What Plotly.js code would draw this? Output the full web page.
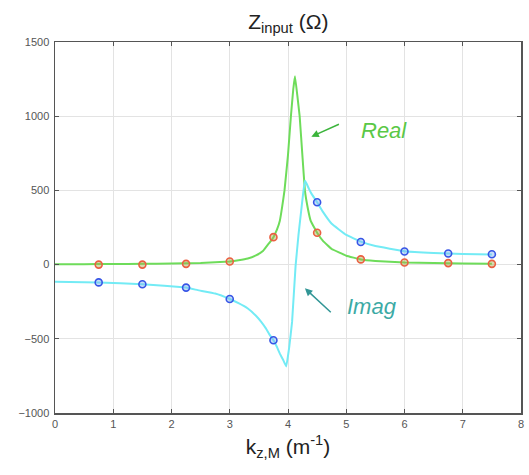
<!DOCTYPE html>
<html><head><meta charset="utf-8">
<script src="https://cdn.plot.ly/plotly-3.0.1.min.js"></script>
<style>html,body{margin:0;padding:0;background:#fff}#chart{width:529px;height:475px}</style>
</head><body><div id="chart"></div>
<script>
// Continuous curves
const realCurveX = [0, 0.5, 1, 1.5, 2, 2.5, 3, 3.15, 3.31, 3.45, 3.57, 3.68, 3.75, 3.81, 3.86, 3.9, 3.94, 4.0, 4.05, 4.09, 4.12, 4.16, 4.2, 4.25, 4.29, 4.34, 4.39, 4.45, 4.5, 4.6, 4.75, 5, 5.25, 5.5, 6, 6.5, 7, 7.5];
const realCurveY = [2, 3, 4, 5, 7, 11, 21, 29, 41, 62, 91, 147, 185, 235, 295, 390, 500, 740, 1000, 1180, 1270, 1140, 1000, 720, 500, 380, 295, 250, 215, 160, 105, 60, 35, 25, 14, 10, 7, 5];
const imagCurveX = [0, 0.75, 1.5, 2.25, 2.45, 2.75, 3, 3.15, 3.31, 3.45, 3.54, 3.62, 3.68, 3.75, 3.81, 3.86, 3.92, 3.97, 4.02, 4.07, 4.13, 4.18, 4.22, 4.26, 4.29, 4.32, 4.36, 4.4, 4.5, 4.6, 4.75, 5, 5.25, 5.5, 6, 6.5, 7, 7.5];
const imagCurveY = [-115, -120, -132, -155, -172, -195, -232, -260, -296, -345, -386, -430, -470, -510, -555, -600, -645, -686, -560, -386, -10, 200, 341, 480, 565, 545, 510, 480, 420, 355, 275, 200, 155, 125, 90, 78, 72, 68];
// Sampled points (markers)
const sampleX = [0.75, 1.5, 2.25, 3, 3.75, 4.5, 5.25, 6, 6.75, 7.5];
const realSamples = [0, 0, 5, 21, 185, 215, 35, 14, 10, 5];
const imagSamples = [-120, -132, -155, -232, -510, 420, 152, 88, 75, 70];

const green = 'rgb(110,220,90)';
const cyan = 'rgb(115,235,245)';
const traces = [
  {x: realCurveX, y: realCurveY, mode: 'lines', line: {color: green, width: 2, shape: 'spline', smoothing: 0.2}, hoverinfo: 'skip'},
  {x: imagCurveX, y: imagCurveY, mode: 'lines', line: {color: cyan, width: 2, shape: 'spline', smoothing: 0.2}, hoverinfo: 'skip'},
  {x: sampleX, y: realSamples, mode: 'markers', marker: {symbol: 'circle', size: 7, color: 'rgba(170,170,80,0.45)', line: {color: 'rgb(235,95,65)', width: 1.6}}},
  {x: sampleX, y: imagSamples, mode: 'markers', marker: {symbol: 'circle', size: 7, color: 'rgba(130,180,240,0.45)', line: {color: 'rgb(55,85,230)', width: 1.6}}}
];
const axisCommon = {
  showgrid: true, gridcolor: '#e3e3e3', gridwidth: 1,
  showline: true, linecolor: '#555', linewidth: 1.5, mirror: 'ticks',
  ticks: 'inside', ticklen: 4, tickcolor: '#555',
  zeroline: false,
  tickfont: {family: 'Liberation Sans, Arial, sans-serif', size: 11, color: '#555'}
};
const layout = {
  width: 529, height: 475,
  margin: {l: 55, r: 8, t: 42, b: 62},
  paper_bgcolor: '#fff', plot_bgcolor: '#fff',
  showlegend: false,
  font: {family: 'Liberation Sans, Arial, sans-serif'},
  title: {text: 'Z<sub>input</sub> (Ω)', font: {size: 21, color: '#222'}, x: 0.545, xanchor: 'center', y: 0.955, yanchor: 'middle'},
  xaxis: Object.assign({}, axisCommon, {range: [0, 8], dtick: 1, title: {text: 'k<sub>z,M</sub> (m<sup>-1</sup>)', font: {size: 21, color: '#222'}, standoff: 10}}),
  yaxis: Object.assign({}, axisCommon, {range: [-1000, 1500], dtick: 500, ticklabelstandoff: 2}),
  annotations: [
    {x: 4.4, y: 862, ax: 4.9, ay: 950, axref: 'x', ayref: 'y', xref: 'x', yref: 'y', text: '', showarrow: true, arrowhead: 2, arrowsize: 1, arrowwidth: 1.5, arrowcolor: 'rgb(60,180,60)'},
    {x: 5.65, y: 905, xref: 'x', yref: 'y', text: '<i>Real</i>', showarrow: false, font: {size: 22, color: 'rgb(90,200,70)'}},
    {x: 4.29, y: -160, ax: 4.76, ay: -330, axref: 'x', ayref: 'y', xref: 'x', yref: 'y', text: '', showarrow: true, arrowhead: 2, arrowsize: 1, arrowwidth: 1.5, arrowcolor: 'rgb(50,150,150)'},
    {x: 5.45, y: -285, xref: 'x', yref: 'y', text: '<i>Imag</i>', showarrow: false, font: {size: 22, color: 'rgb(60,170,165)'}}
  ]
};
Plotly.newPlot('chart', traces, layout, {displayModeBar: false, staticPlot: true});
</script>
</body></html>
